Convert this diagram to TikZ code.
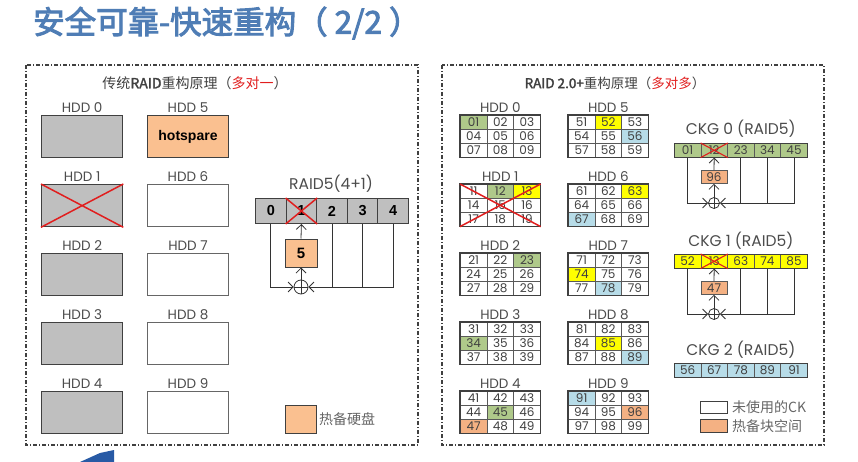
\documentclass[tikz,border=0pt]{standalone}
\usepackage{fontspec}
\setmainfont{Liberation Sans}
\newfontfamily\cjk{Noto Sans CJK SC}
\newfontfamily\cjkb[FakeBold=2]{Noto Sans CJK SC}
\newfontfamily\cjkbb[FakeBold=3]{Noto Sans CJK SC}
\newfontfamily\geo{Poppins}
\usetikzlibrary{arrows.meta,calc}
\definecolor{titleblue}{RGB}{79,125,181}
\definecolor{redt}{RGB}{225,30,30}
\definecolor{peach}{RGB}{250,192,144}
\definecolor{cko}{RGB}{244,177,131}
\definecolor{ckg}{RGB}{175,201,138}
\definecolor{cky}{RGB}{255,255,0}
\definecolor{ckb}{RGB}{183,220,232}
\definecolor{diskgray}{RGB}{191,191,191}
\definecolor{wedge}{RGB}{40,90,165}
\begin{document}
\begin{tikzpicture}[x=1pt,y=-1pt,
  frame/.style={draw=black!75,line width=1.1pt,dash pattern=on 4pt off 2pt on 1pt off 2pt},
  hddg/.style={draw=black!75,fill=diskgray,line width=1.3pt,minimum width=81pt,minimum height=42pt,inner sep=0},
  hddw/.style={draw=black!60,fill=white,line width=1pt,minimum width=81pt,minimum height=42pt,inner sep=0},
  lbl/.style={font=\geo\fontsize{13.5}{13.5}\selectfont,text=black!70,inner sep=0},
  redx/.style={draw=redt,line width=1.5pt},
  rcell/.style={draw=black!75,fill=diskgray,line width=1pt,minimum width=30.6pt,minimum height=25pt,inner sep=0,font=\bfseries\fontsize{14.5}{14.5}\selectfont},
  spare/.style={draw=black!75,fill=peach,line width=1pt,inner sep=0},
  conn/.style={draw=black!80,line width=0.8pt},
  arr/.style={-{Straight Barb[length=5pt,width=10pt]}},
  gcell/.style={draw=black!65,fill=white,line width=0.6pt,minimum width=26.67pt,minimum height=14pt,inner sep=0,font=\geo\fontsize{12}{12}\selectfont,text=black!75},
  gframe/.style={draw=black!75,line width=1.1pt},
  kcell/.style={draw=black!65,line width=0.6pt,minimum width=26.6pt,minimum height=14pt,inner sep=0,font=\geo\fontsize{12}{12}\selectfont,text=black!75},
  legtxt/.style={font=\cjk\fontsize{14}{14}\selectfont,text=black!60,inner sep=0}
]
\useasboundingbox (0,0) rectangle (858,462);
\fill[white] (0,0) rectangle (858,462);

% title
\node[anchor=west,text=titleblue,font=\cjkbb\fontsize{31.5}{31.5}\selectfont,inner sep=0] (title) at (33,23) {安全可靠-快速重构（ 2/2 ）};

% panels
\draw[frame] (26,65) rectangle (418,445);
\draw[frame] (442,65) rectangle (824,445);

\node[font=\cjk\fontsize{14}{14}\selectfont,text=black!75,inner sep=0] (lt) at (195,83) {传统{\cjkb RAID}重构原理（\textcolor{redt}{多对一}）};
\node[font=\cjk\fontsize{13.5}{13.5}\selectfont,text=black!75,inner sep=0] (rt) at (615,83) {{\cjkb RAID 2.0+}重构原理（\textcolor{redt}{多对多}）};

% left disks
\foreach \i/\x/\y/\s in {0/41/115/hddg,1/41/184/hddg,2/41/253/hddg,3/41/322/hddg,4/41/391/hddg,
  6/147/184/hddw,7/147/253/hddw,8/147/322/hddw,9/147/391/hddw}{
  \node[\s,anchor=north west] (L\i) at (\x,\y) {};
  \node[lbl,anchor=base] at ([yshift=2.5pt]L\i.north) {HDD \i};
}
\node[hddw,fill=peach,draw=black!75,anchor=north west,font=\bfseries\fontsize{14}{14}\selectfont] (L5) at (147,115) {hotspare};
\node[lbl,anchor=base] at ([yshift=2.5pt]L5.north) {HDD 5};
\draw[redx] (L1.north west) -- (L1.south east) (L1.south west) -- (L1.north east);

% RAID5(4+1)
\node[lbl,font=\geo\fontsize{15.5}{15.5}\selectfont,anchor=base] (rl) at (331,190) {RAID5(4+1)};
\foreach \i in {0,...,4}{
  \node[rcell,anchor=north west] (r\i) at (255+\i*30.6,198) {\i};
}
\draw[redx] (r1.north west) -- (r1.south east) (r1.south west) -- (r1.north east);
\node[spare,minimum width=32pt,minimum height=28pt,font=\bfseries\fontsize{15}{15}\selectfont] (s5) at (301,253) {5};
\node[circle,draw=black!80,line width=0.8pt,minimum size=14pt,inner sep=0] (x5) at (301,287) {};
\draw[conn] (x5.north) -- (x5.south) (x5.west) -- (x5.east);
\draw[conn,arr] (r0.south) |- (x5.west);
\draw[conn,arr] (r4.south) |- (x5.east);
\draw[conn] (r2.south) -- (r2.south |- x5.center);
\draw[conn] (r3.south) -- (r3.south |- x5.center);
\draw[conn,arr] (x5.north) -- (s5.south);
\draw[conn,arr] (s5.north) -- (r1.south);

% left legend
\node[spare,minimum width=31pt,minimum height=28pt,anchor=north west] (lg) at (285,405) {};
\node[legtxt,anchor=west] at ([xshift=2pt]lg.east) {热备硬盘};

% right grids
\foreach \d/\x/\y in {0/460/115,1/460/184,2/460/253,3/460/322,4/460/391,
  5/568/115,6/568/184,7/568/253,8/568/322,9/568/391}{
  \foreach \r in {0,1,2}{
    \foreach \c in {0,1,2}{
      \pgfmathtruncatemacro\k{\r*3+\c+1}
      \node[gcell,anchor=north west] (g\d-\k) at (\x+\c*26.67,\y+\r*14) {\d\k};
    }
  }
}
\foreach \d/\k/\col in {0/1/ckg,5/2/cky,5/6/ckb,1/2/ckg,1/3/cky,6/3/cky,6/7/ckb,
  2/3/ckg,7/4/cky,7/8/ckb,3/4/ckg,8/5/cky,8/9/ckb,4/5/ckg,4/7/cko,9/1/ckb,9/6/cko}{
  \node[gcell,fill=\col] at (g\d-\k) {\d\k};
}
\foreach \d in {0,...,9}{
  \draw[gframe] (g\d-1.north west) rectangle (g\d-9.south east);
  \node[lbl,anchor=base] at ([yshift=2.5pt]$(g\d-1.north west)!0.5!(g\d-3.north east)$) {HDD \d};
}
\draw[redx] (g1-1.north west) -- (g1-9.south east) (g1-7.south west) -- (g1-3.north east);

% CKGs
\foreach \g/\T/\col/\a/\b/\cc/\dd/\e in {0/143/ckg/01/12/23/34/45,1/254/cky/52/13/63/74/85,2/363/ckb/56/67/78/89/91}{
  \node[kcell,fill=\col,anchor=north west] (k\g-0) at (674,\T) {\a};
  \node[kcell,fill=\col,anchor=north west] (k\g-1) at (700.6,\T) {\b};
  \node[kcell,fill=\col,anchor=north west] (k\g-2) at (727.2,\T) {\cc};
  \node[kcell,fill=\col,anchor=north west] (k\g-3) at (753.8,\T) {\dd};
  \node[kcell,fill=\col,anchor=north west] (k\g-4) at (780.4,\T) {\e};
  \draw[gframe,line width=0.9pt] (k\g-0.north west) rectangle (k\g-4.south east);
  \node[lbl,font=\geo\fontsize{15.5}{15.5}\selectfont,anchor=base] at ([yshift=8pt]$(k\g-0.north west)!0.5!(k\g-4.north east)$) {CKG \g\ (RAID5)};
}
\foreach \g/\T/\v in {0/143/96,1/254/47}{
  \node[spare,fill=cko,draw=black!65,line width=0.7pt,minimum width=26pt,minimum height=13pt,font=\geo\fontsize{12}{12}\selectfont,text=black!75] (sp\g) at (714,\T+34) {\v};
  \node[circle,draw=black!80,line width=0.8pt,minimum size=11pt,inner sep=0] (xo\g) at (714,\T+60) {};
  \draw[conn] (xo\g.north) -- (xo\g.south) (xo\g.west) -- (xo\g.east);
  \draw[conn,arr] (k\g-0.south) |- (xo\g.west);
  \draw[conn,arr] (k\g-4.south) |- (xo\g.east);
  \draw[conn] (k\g-2.south) -- (k\g-2.south |- xo\g.center);
  \draw[conn] (k\g-3.south) -- (k\g-3.south |- xo\g.center);
  \draw[conn,arr] (xo\g.north) -- (sp\g.south);
  \draw[conn,arr] (sp\g.north) -- (k\g-1.south);
  \draw[redx,line width=1.1pt] (k\g-1.north west) -- (k\g-1.south east) (k\g-1.south west) -- (k\g-1.north east);
}

% right legend
\node[draw=black!75,fill=white,line width=1pt,minimum width=27pt,minimum height=12pt,inner sep=0,anchor=north west] (lgw) at (700,401) {};
\node[legtxt,anchor=west] at ([xshift=4pt]lgw.east) {未使用的CK};
\node[draw=black!75,fill=cko,line width=1pt,minimum width=27pt,minimum height=13pt,inner sep=0,anchor=north west] (lgo) at (700,419) {};
\node[legtxt,anchor=west] at ([xshift=4pt]lgo.east) {热备块空间};

% slide ornament
\fill[wedge] (80,462) -- (100,453) -- (114,450) -- (114,462) -- cycle;
\end{tikzpicture}
\end{document}
